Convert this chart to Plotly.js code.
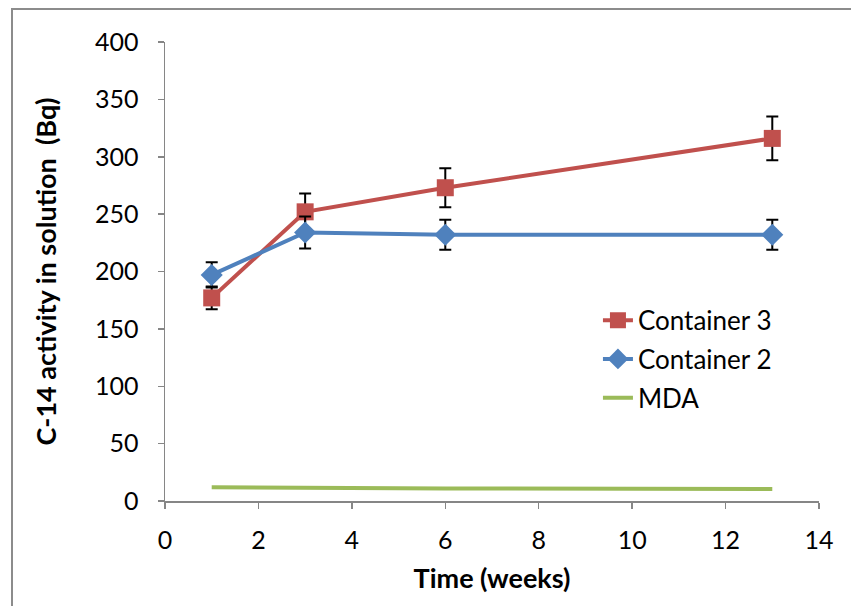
<!DOCTYPE html>
<html>
<head>
<meta charset="utf-8">
<script src="https://cdn.plot.ly/plotly-3.0.1.min.js"></script>
<style>
html,body{margin:0;padding:0;width:851px;height:606px;overflow:hidden;background:#fff;}
#frame{position:absolute;left:11px;top:8px;width:900px;height:700px;border:2px solid #8c8c8c;box-sizing:border-box;}
#chart{position:absolute;left:0;top:0;width:851px;height:606px;}
</style>
</head>
<body>
<div id="frame"></div>
<div id="chart"></div>
<script>
const weeks = [1, 3, 6, 13];
const container3 = [177, 252, 273, 316];
const container3Err = [10, 16, 17, 19];
const container2 = [197, 234, 232, 232];
const container2Err = [11, 14, 13, 13];
const mda = [12, 11.5, 11, 10.5];
const xTicks = [0, 2, 4, 6, 8, 10, 12, 14];
const yTicks = [0, 50, 100, 150, 200, 250, 300, 350, 400];

const FONT = 'Lato, "Open Sans", sans-serif';

const traces = [
  {
    x: weeks, y: container3, name: 'Container 3', type: 'scatter', mode: 'lines+markers',
    legendgroup: 'a',
    line: {color: '#C0504D', width: 4},
    marker: {symbol: 'square', size: 17, color: '#C0504D'},
    error_y: {type: 'data', array: container3Err, visible: true, color: '#000', thickness: 2, width: 6}
  },
  {
    x: weeks, y: container2, name: 'Container 2', type: 'scatter', mode: 'lines+markers',
    legendgroup: 'b',
    line: {color: '#4F81BD', width: 4},
    marker: {symbol: 'diamond', size: 17, color: '#4F81BD'},
    error_y: {type: 'data', array: container2Err, visible: true, color: '#000', thickness: 2, width: 6}
  },
  {
    x: weeks, y: mda, name: 'MDA', type: 'scatter', mode: 'lines',
    legendgroup: 'c',
    line: {color: '#9BBB59', width: 4}
  }
];

const axisCommon = {
  showgrid: false, zeroline: false, showline: true, linecolor: '#868686', linewidth: 1.5,
  ticks: 'outside', ticklen: 6, tickcolor: '#868686', tickwidth: 1.5,
  tickfont: {family: FONT, size: 25, color: '#000'}
};

const layout = {
  width: 851, height: 606,
  margin: {l: 165, r: 32, t: 42, b: 105},
  paper_bgcolor: 'rgba(0,0,0,0)', plot_bgcolor: 'rgba(0,0,0,0)',
  showlegend: true,
  legend: {
    x: 0.662, y: 0.445, xanchor: 'left', yanchor: 'top',
    font: {family: FONT, size: 26, color: '#000'},
    traceorder: 'grouped', tracegroupgap: 2, bgcolor: 'rgba(0,0,0,0)'
  },
  xaxis: Object.assign({}, axisCommon, {
    range: [0, 14], tickvals: xTicks, ticktext: xTicks.map(String), ticklabelstandoff: 10,
    title: {text: '<b>Time (weeks)</b>', font: {family: FONT, size: 27, color: '#000'}, standoff: 16}
  }),
  yaxis: Object.assign({}, axisCommon, {
    range: [0, 400], tickvals: yTicks, ticktext: yTicks.map(String), ticklabelstandoff: 14,
    title: {text: '<b>C-14 activity in solution  (Bq)</b>', font: {family: FONT, size: 27, color: '#000'}, standoff: 30}
  })
};

Plotly.newPlot('chart', traces, layout, {displayModeBar: false, staticPlot: true});
</script>
</body>
</html>
